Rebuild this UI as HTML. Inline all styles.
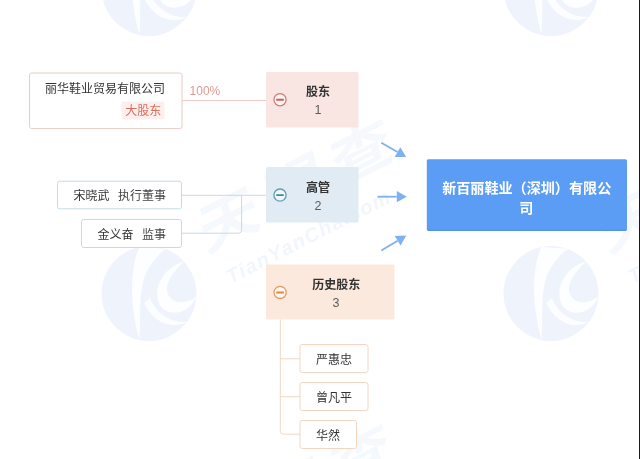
<!DOCTYPE html>
<html><head><meta charset="utf-8"><title>diagram</title>
<style>
html,body{margin:0;padding:0;background:#fff;}
body{width:640px;height:459px;overflow:hidden;position:relative;font-family:"Liberation Sans","Noto Sans CJK SC",sans-serif;}
svg{display:block;filter:blur(0.45px);}
svg text{font-family:"Liberation Sans","Noto Sans CJK SC",sans-serif;}
</style></head><body>
<svg width="640" height="459" viewBox="0 0 640 459">
<g transform="translate(-253 -11.5) scale(47.5)"><circle r="1" fill="#eff4fc"/><path d="M-0.2-0.98C-0.42-0.5-0.4 0.3-0.2 0.97C-0.16 0.5-0.24-0.05-0.05-0.46C0.05-0.65 0.2-0.82 0.35-0.94Z" fill="#fff" opacity="0.85"/><path d="M0.74-0.68C0.3-0.55 0.05-0.1 0.24 0.25C0.4 0.5 0.85 0.45 1.0 0.05C0.85 0.2 0.55 0.25 0.42 0.05C0.3-0.15 0.45-0.4 0.74-0.68Z" fill="#fff" opacity="0.85"/><path d="M0.02 0.1C0.15 0.42 0.45 0.62 0.8 0.6C0.5 0.76 0.08 0.62-0.1 0.2Z" fill="#fff" opacity="0.8"/></g>
<g transform="translate(-107 -119.5) rotate(-27)" fill="#eff4fc"><text x="-89 -27 35" y="20" font-size="54" font-weight="bold" transform="skewX(-12) scale(1.2 1)" opacity="0.6">天眼查</text><text x="-11" y="58.5" font-size="20" font-weight="bold" font-style="italic" text-anchor="middle" letter-spacing="1.5" opacity="0.85">TianYanCha.com</text></g>
<g transform="translate(-253 293.5) scale(47.5)"><circle r="1" fill="#eff4fc"/><path d="M-0.2-0.98C-0.42-0.5-0.4 0.3-0.2 0.97C-0.16 0.5-0.24-0.05-0.05-0.46C0.05-0.65 0.2-0.82 0.35-0.94Z" fill="#fff" opacity="0.85"/><path d="M0.74-0.68C0.3-0.55 0.05-0.1 0.24 0.25C0.4 0.5 0.85 0.45 1.0 0.05C0.85 0.2 0.55 0.25 0.42 0.05C0.3-0.15 0.45-0.4 0.74-0.68Z" fill="#fff" opacity="0.85"/><path d="M0.02 0.1C0.15 0.42 0.45 0.62 0.8 0.6C0.5 0.76 0.08 0.62-0.1 0.2Z" fill="#fff" opacity="0.8"/></g>
<g transform="translate(-107 185.5) rotate(-27)" fill="#eff4fc"><text x="-89 -27 35" y="20" font-size="54" font-weight="bold" transform="skewX(-12) scale(1.2 1)" opacity="0.6">天眼查</text><text x="-11" y="58.5" font-size="20" font-weight="bold" font-style="italic" text-anchor="middle" letter-spacing="1.5" opacity="0.85">TianYanCha.com</text></g>
<g transform="translate(-253 598.5) scale(47.5)"><circle r="1" fill="#eff4fc"/><path d="M-0.2-0.98C-0.42-0.5-0.4 0.3-0.2 0.97C-0.16 0.5-0.24-0.05-0.05-0.46C0.05-0.65 0.2-0.82 0.35-0.94Z" fill="#fff" opacity="0.85"/><path d="M0.74-0.68C0.3-0.55 0.05-0.1 0.24 0.25C0.4 0.5 0.85 0.45 1.0 0.05C0.85 0.2 0.55 0.25 0.42 0.05C0.3-0.15 0.45-0.4 0.74-0.68Z" fill="#fff" opacity="0.85"/><path d="M0.02 0.1C0.15 0.42 0.45 0.62 0.8 0.6C0.5 0.76 0.08 0.62-0.1 0.2Z" fill="#fff" opacity="0.8"/></g>
<g transform="translate(-107 490.5) rotate(-27)" fill="#eff4fc"><text x="-89 -27 35" y="20" font-size="54" font-weight="bold" transform="skewX(-12) scale(1.2 1)" opacity="0.6">天眼查</text><text x="-11" y="58.5" font-size="20" font-weight="bold" font-style="italic" text-anchor="middle" letter-spacing="1.5" opacity="0.85">TianYanCha.com</text></g>
<g transform="translate(149 -11.5) scale(47.5)"><circle r="1" fill="#eff4fc"/><path d="M-0.2-0.98C-0.42-0.5-0.4 0.3-0.2 0.97C-0.16 0.5-0.24-0.05-0.05-0.46C0.05-0.65 0.2-0.82 0.35-0.94Z" fill="#fff" opacity="0.85"/><path d="M0.74-0.68C0.3-0.55 0.05-0.1 0.24 0.25C0.4 0.5 0.85 0.45 1.0 0.05C0.85 0.2 0.55 0.25 0.42 0.05C0.3-0.15 0.45-0.4 0.74-0.68Z" fill="#fff" opacity="0.85"/><path d="M0.02 0.1C0.15 0.42 0.45 0.62 0.8 0.6C0.5 0.76 0.08 0.62-0.1 0.2Z" fill="#fff" opacity="0.8"/></g>
<g transform="translate(295 -119.5) rotate(-27)" fill="#eff4fc"><text x="-89 -27 35" y="20" font-size="54" font-weight="bold" transform="skewX(-12) scale(1.2 1)" opacity="0.6">天眼查</text><text x="-11" y="58.5" font-size="20" font-weight="bold" font-style="italic" text-anchor="middle" letter-spacing="1.5" opacity="0.85">TianYanCha.com</text></g>
<g transform="translate(149 293.5) scale(47.5)"><circle r="1" fill="#eff4fc"/><path d="M-0.2-0.98C-0.42-0.5-0.4 0.3-0.2 0.97C-0.16 0.5-0.24-0.05-0.05-0.46C0.05-0.65 0.2-0.82 0.35-0.94Z" fill="#fff" opacity="0.85"/><path d="M0.74-0.68C0.3-0.55 0.05-0.1 0.24 0.25C0.4 0.5 0.85 0.45 1.0 0.05C0.85 0.2 0.55 0.25 0.42 0.05C0.3-0.15 0.45-0.4 0.74-0.68Z" fill="#fff" opacity="0.85"/><path d="M0.02 0.1C0.15 0.42 0.45 0.62 0.8 0.6C0.5 0.76 0.08 0.62-0.1 0.2Z" fill="#fff" opacity="0.8"/></g>
<g transform="translate(295 185.5) rotate(-27)" fill="#eff4fc"><text x="-89 -27 35" y="20" font-size="54" font-weight="bold" transform="skewX(-12) scale(1.2 1)" opacity="0.6">天眼查</text><text x="-11" y="58.5" font-size="20" font-weight="bold" font-style="italic" text-anchor="middle" letter-spacing="1.5" opacity="0.85">TianYanCha.com</text></g>
<g transform="translate(149 598.5) scale(47.5)"><circle r="1" fill="#eff4fc"/><path d="M-0.2-0.98C-0.42-0.5-0.4 0.3-0.2 0.97C-0.16 0.5-0.24-0.05-0.05-0.46C0.05-0.65 0.2-0.82 0.35-0.94Z" fill="#fff" opacity="0.85"/><path d="M0.74-0.68C0.3-0.55 0.05-0.1 0.24 0.25C0.4 0.5 0.85 0.45 1.0 0.05C0.85 0.2 0.55 0.25 0.42 0.05C0.3-0.15 0.45-0.4 0.74-0.68Z" fill="#fff" opacity="0.85"/><path d="M0.02 0.1C0.15 0.42 0.45 0.62 0.8 0.6C0.5 0.76 0.08 0.62-0.1 0.2Z" fill="#fff" opacity="0.8"/></g>
<g transform="translate(295 490.5) rotate(-27)" fill="#eff4fc"><text x="-89 -27 35" y="20" font-size="54" font-weight="bold" transform="skewX(-12) scale(1.2 1)" opacity="0.6">天眼查</text><text x="-11" y="58.5" font-size="20" font-weight="bold" font-style="italic" text-anchor="middle" letter-spacing="1.5" opacity="0.85">TianYanCha.com</text></g>
<g transform="translate(551 -11.5) scale(47.5)"><circle r="1" fill="#eff4fc"/><path d="M-0.2-0.98C-0.42-0.5-0.4 0.3-0.2 0.97C-0.16 0.5-0.24-0.05-0.05-0.46C0.05-0.65 0.2-0.82 0.35-0.94Z" fill="#fff" opacity="0.85"/><path d="M0.74-0.68C0.3-0.55 0.05-0.1 0.24 0.25C0.4 0.5 0.85 0.45 1.0 0.05C0.85 0.2 0.55 0.25 0.42 0.05C0.3-0.15 0.45-0.4 0.74-0.68Z" fill="#fff" opacity="0.85"/><path d="M0.02 0.1C0.15 0.42 0.45 0.62 0.8 0.6C0.5 0.76 0.08 0.62-0.1 0.2Z" fill="#fff" opacity="0.8"/></g>
<g transform="translate(697 -119.5) rotate(-27)" fill="#eff4fc"><text x="-89 -27 35" y="20" font-size="54" font-weight="bold" transform="skewX(-12) scale(1.2 1)" opacity="0.6">天眼查</text><text x="-11" y="58.5" font-size="20" font-weight="bold" font-style="italic" text-anchor="middle" letter-spacing="1.5" opacity="0.85">TianYanCha.com</text></g>
<g transform="translate(551 293.5) scale(47.5)"><circle r="1" fill="#eff4fc"/><path d="M-0.2-0.98C-0.42-0.5-0.4 0.3-0.2 0.97C-0.16 0.5-0.24-0.05-0.05-0.46C0.05-0.65 0.2-0.82 0.35-0.94Z" fill="#fff" opacity="0.85"/><path d="M0.74-0.68C0.3-0.55 0.05-0.1 0.24 0.25C0.4 0.5 0.85 0.45 1.0 0.05C0.85 0.2 0.55 0.25 0.42 0.05C0.3-0.15 0.45-0.4 0.74-0.68Z" fill="#fff" opacity="0.85"/><path d="M0.02 0.1C0.15 0.42 0.45 0.62 0.8 0.6C0.5 0.76 0.08 0.62-0.1 0.2Z" fill="#fff" opacity="0.8"/></g>
<g transform="translate(697 185.5) rotate(-27)" fill="#eff4fc"><text x="-89 -27 35" y="20" font-size="54" font-weight="bold" transform="skewX(-12) scale(1.2 1)" opacity="0.6">天眼查</text><text x="-11" y="58.5" font-size="20" font-weight="bold" font-style="italic" text-anchor="middle" letter-spacing="1.5" opacity="0.85">TianYanCha.com</text></g>
<g transform="translate(551 598.5) scale(47.5)"><circle r="1" fill="#eff4fc"/><path d="M-0.2-0.98C-0.42-0.5-0.4 0.3-0.2 0.97C-0.16 0.5-0.24-0.05-0.05-0.46C0.05-0.65 0.2-0.82 0.35-0.94Z" fill="#fff" opacity="0.85"/><path d="M0.74-0.68C0.3-0.55 0.05-0.1 0.24 0.25C0.4 0.5 0.85 0.45 1.0 0.05C0.85 0.2 0.55 0.25 0.42 0.05C0.3-0.15 0.45-0.4 0.74-0.68Z" fill="#fff" opacity="0.85"/><path d="M0.02 0.1C0.15 0.42 0.45 0.62 0.8 0.6C0.5 0.76 0.08 0.62-0.1 0.2Z" fill="#fff" opacity="0.8"/></g>
<g transform="translate(697 490.5) rotate(-27)" fill="#eff4fc"><text x="-89 -27 35" y="20" font-size="54" font-weight="bold" transform="skewX(-12) scale(1.2 1)" opacity="0.6">天眼查</text><text x="-11" y="58.5" font-size="20" font-weight="bold" font-style="italic" text-anchor="middle" letter-spacing="1.5" opacity="0.85">TianYanCha.com</text></g>
<rect x="29.5" y="73" width="152.5" height="55.599999999999994" rx="2.2" fill="#fff" stroke="#e9cac6" stroke-width="1" />
<text x="45" y="92.5" font-size="12" fill="#333" text-anchor="start">丽华鞋业贸易有限公司</text>
<rect x="121.5" y="101.5" width="43.0" height="18.0" rx="2" fill="#fcefed" stroke="none" stroke-width="1" />
<text x="143.3" y="115.3" font-size="12" fill="#d86f5e" text-anchor="middle">大股东</text>
<path d="M182 100.6H266" fill="none" stroke="#e9cac6" stroke-width="1" />
<text x="189.6" y="95.20" font-size="12" fill="#e09a91" text-anchor="start" font-weight="normal" >100%</text>
<rect x="266" y="72" width="92.5" height="55.5" rx="1.5" fill="#f9e6e3" stroke="none" stroke-width="1" />
<circle cx="280" cy="99.7" r="6.1" fill="#fff" fill-opacity="0.55" stroke="#d27a72" stroke-width="1.3"/>
<rect x="276.2" y="98.8" width="7.6" height="1.9" rx="0.5" fill="#c95f59"/>
<text x="318" y="96" font-size="12" fill="#333" text-anchor="middle" font-weight="bold">股东</text>
<text x="318" y="114.47" font-size="12.5" fill="#5c5c5c" text-anchor="middle" font-weight="normal" >1</text>
<rect x="57.5" y="181.2" width="124.0" height="27.600000000000023" rx="2.2" fill="#fff" stroke="#c6dae5" stroke-width="1" />
<rect x="81.5" y="219.5" width="100.0" height="28.0" rx="2.2" fill="#fff" stroke="#c6dae5" stroke-width="1" />
<path d="M181.5 195.3H266" fill="none" stroke="#c6dae5" stroke-width="1" />
<path d="M181.5 233.2H238.6Q241.6 233.2 241.6 230.2V195.3" fill="none" stroke="#c6dae5" stroke-width="1" />
<text x="73.5" y="200" font-size="12" fill="#333" text-anchor="start">宋晓武</text>
<text x="118" y="200" font-size="12" fill="#444" text-anchor="start">执行董事</text>
<text x="97.5" y="238.5" font-size="12" fill="#333" text-anchor="start">金义奋</text>
<text x="142" y="238.5" font-size="12" fill="#444" text-anchor="start">监事</text>
<rect x="266" y="167" width="92.5" height="55.5" rx="1.5" fill="#e0ebf4" stroke="none" stroke-width="1" />
<circle cx="280" cy="195.1" r="6.1" fill="#fff" fill-opacity="0.55" stroke="#5f9db5" stroke-width="1.3"/>
<rect x="276.2" y="194.2" width="7.6" height="1.9" rx="0.5" fill="#3f8c98"/>
<text x="318" y="191.5" font-size="12" fill="#333" text-anchor="middle" font-weight="bold">高管</text>
<text x="318" y="209.78" font-size="12.5" fill="#5c5c5c" text-anchor="middle" font-weight="normal" >2</text>
<rect x="266" y="264.5" width="128.5" height="55.0" rx="1.5" fill="#fce9dd" stroke="none" stroke-width="1" />
<circle cx="280.1" cy="292.4" r="6.1" fill="#fff" fill-opacity="0.55" stroke="#e89a5e" stroke-width="1.3"/>
<rect x="276.3" y="291.5" width="7.6" height="1.9" rx="0.5" fill="#e0863c"/>
<text x="336.2" y="289" font-size="12" fill="#333" text-anchor="middle" font-weight="bold">历史股东</text>
<text x="336" y="306.88" font-size="12.5" fill="#5c5c5c" text-anchor="middle" font-weight="normal" >3</text>
<path d="M280.3 319.5V431.2Q280.3 434.2 283.3 434.2H300" fill="none" stroke="#f2d6c2" stroke-width="1" />
<path d="M280.3 358.8H300" fill="none" stroke="#f2d6c2" stroke-width="1" />
<path d="M280.3 396.7H300" fill="none" stroke="#f2d6c2" stroke-width="1" />
<rect x="300" y="344.5" width="68" height="28.0" rx="2.2" fill="#fff" stroke="#f2d6c2" stroke-width="1" />
<rect x="300" y="382.5" width="68" height="28.0" rx="2.2" fill="#fff" stroke="#f2d6c2" stroke-width="1" />
<rect x="300" y="420.5" width="56.5" height="28.0" rx="2.2" fill="#fff" stroke="#f2d6c2" stroke-width="1" />
<text x="316" y="364.3" font-size="12" fill="#333" text-anchor="start">严惠忠</text>
<text x="316" y="402.2" font-size="12" fill="#333" text-anchor="start">曾凡平</text>
<text x="316" y="440.2" font-size="12" fill="#333" text-anchor="start">华然</text>
<rect x="426.8" y="159.2" width="200.2" height="71.70000000000002" rx="1.6" fill="#5b9cf5" stroke="none" stroke-width="1" />
<path d="M428 230.3H626" fill="none" stroke="#4f8fe8" stroke-width="1" />
<text x="526.7" y="192.6" font-size="14.1" fill="#fff" text-anchor="middle" font-weight="bold">新百丽鞋业（深圳）有限公</text>
<text x="526.2" y="213.3" font-size="14.1" fill="#fff" text-anchor="middle" font-weight="bold">司</text>
<path d="M381.3 142.8L397.5 152.0" stroke="#7fb0f0" stroke-width="1.8" fill="none"/>
<path d="M406.2 157.0L394.7 156.9L400.3 147.2Z" fill="#7fb0f0"/>
<path d="M377.6 196.7L396.8 196.7" stroke="#7fb0f0" stroke-width="1.8" fill="none"/>
<path d="M406.8 196.7L396.8 202.3L396.8 191.1Z" fill="#7fb0f0"/>
<path d="M381.3 250.6L397.6 240.7" stroke="#7fb0f0" stroke-width="1.8" fill="none"/>
<path d="M406.2 235.5L400.6 245.5L394.7 235.9Z" fill="#7fb0f0"/>
</svg>
<div style="position:absolute;left:639px;top:0;width:1px;height:459px;background:#1c1a19"></div>
</body></html>
